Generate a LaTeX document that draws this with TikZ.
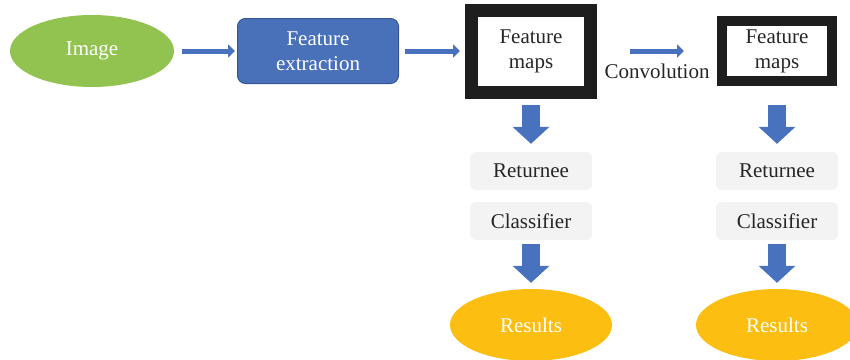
\documentclass[tikz,border=0pt]{standalone}
\usepackage{fontspec}
\setmainfont{Liberation Serif}
\usetikzlibrary{shapes.geometric,arrows.meta}
\definecolor{imggreen}{RGB}{146,195,80}
\definecolor{boxblue}{RGB}{72,113,185}
\definecolor{boxblueline}{RGB}{52,86,150}
\definecolor{resyellow}{RGB}{252,190,17}
\definecolor{mapblack}{RGB}{30,30,30}
\definecolor{lightgray}{RGB}{243,243,243}
\definecolor{arrowblue}{RGB}{72,113,190}
\tikzset{
  txt/.style={font=\fontsize{21}{25}\selectfont, align=center, inner sep=0pt},
  oval/.style={txt, ellipse, text=white, minimum width=162pt, minimum height=72pt},
  mapbox/.style={txt, draw=mapblack, fill=white, text=black!85},
  graybox/.style={txt, rectangle, rounded corners=6pt, fill=lightgray, text=black!85,
    minimum width=122pt, minimum height=38pt},
  thinarrow/.style={draw=arrowblue, line width=5pt, -{Triangle[length=7pt,width=13pt]}},
  blockarrow/.style={draw=arrowblue, line width=18pt, -{Triangle[length=17pt,width=36pt]}},
}
\begin{document}
\begin{tikzpicture}[x=1pt,y=-1pt]
\useasboundingbox (0,0) rectangle (850,359);
\clip (0,0) rectangle (850,359);

\node[oval, fill=imggreen, minimum width=164pt] (img) at (92,51) {Image};
\node[txt, rectangle, rounded corners=8pt, fill=boxblue, draw=boxblueline, line width=1pt,
  text=white, minimum width=161pt, minimum height=65pt] (fe) at (318,51) {Feature\\extraction};
\node[mapbox, line width=13pt, minimum width=119pt, minimum height=82pt] (fm1) at (531,51.5) {Feature\\maps};
\node[mapbox, line width=10pt, minimum width=110pt, minimum height=60pt] (fm2) at (777,51) {Feature\\maps};
\node[txt, text=black!85] (conv) at (657,71) {Convolution};

\node[graybox] (ret1) at (531,171) {Returnee};
\node[graybox] (cls1) at (531,221) {Classifier};
\node[graybox] (ret2) at (777,171) {Returnee};
\node[graybox] (cls2) at (777,221) {Classifier};

\node[oval, fill=resyellow] (res1) at (531,325) {Results};
\node[oval, fill=resyellow] (res2) at (777,325) {Results};

\draw[thinarrow] ([xshift=8pt]img.east) -- ([xshift=-2pt]fe.west);
\draw[thinarrow] ([xshift=6pt]fe.east) -- ([xshift=-5pt]fm1.west |- fe.east);
\draw[thinarrow] ([xshift=33pt]fm1.east |- fm2.west) -- ([xshift=-33pt]fm2.west);

\draw[blockarrow] ([yshift=-6pt]fm1.south) -- ([yshift=8pt]ret1.north);
\draw[blockarrow] ([yshift=-19pt]fm2.south) -- ([yshift=8pt]ret2.north);
\draw[blockarrow] ([yshift=-4pt]cls1.south) -- ([yshift=6pt]res1.north);
\draw[blockarrow] ([yshift=-4pt]cls2.south) -- ([yshift=6pt]res2.north);
\end{tikzpicture}
\end{document}
